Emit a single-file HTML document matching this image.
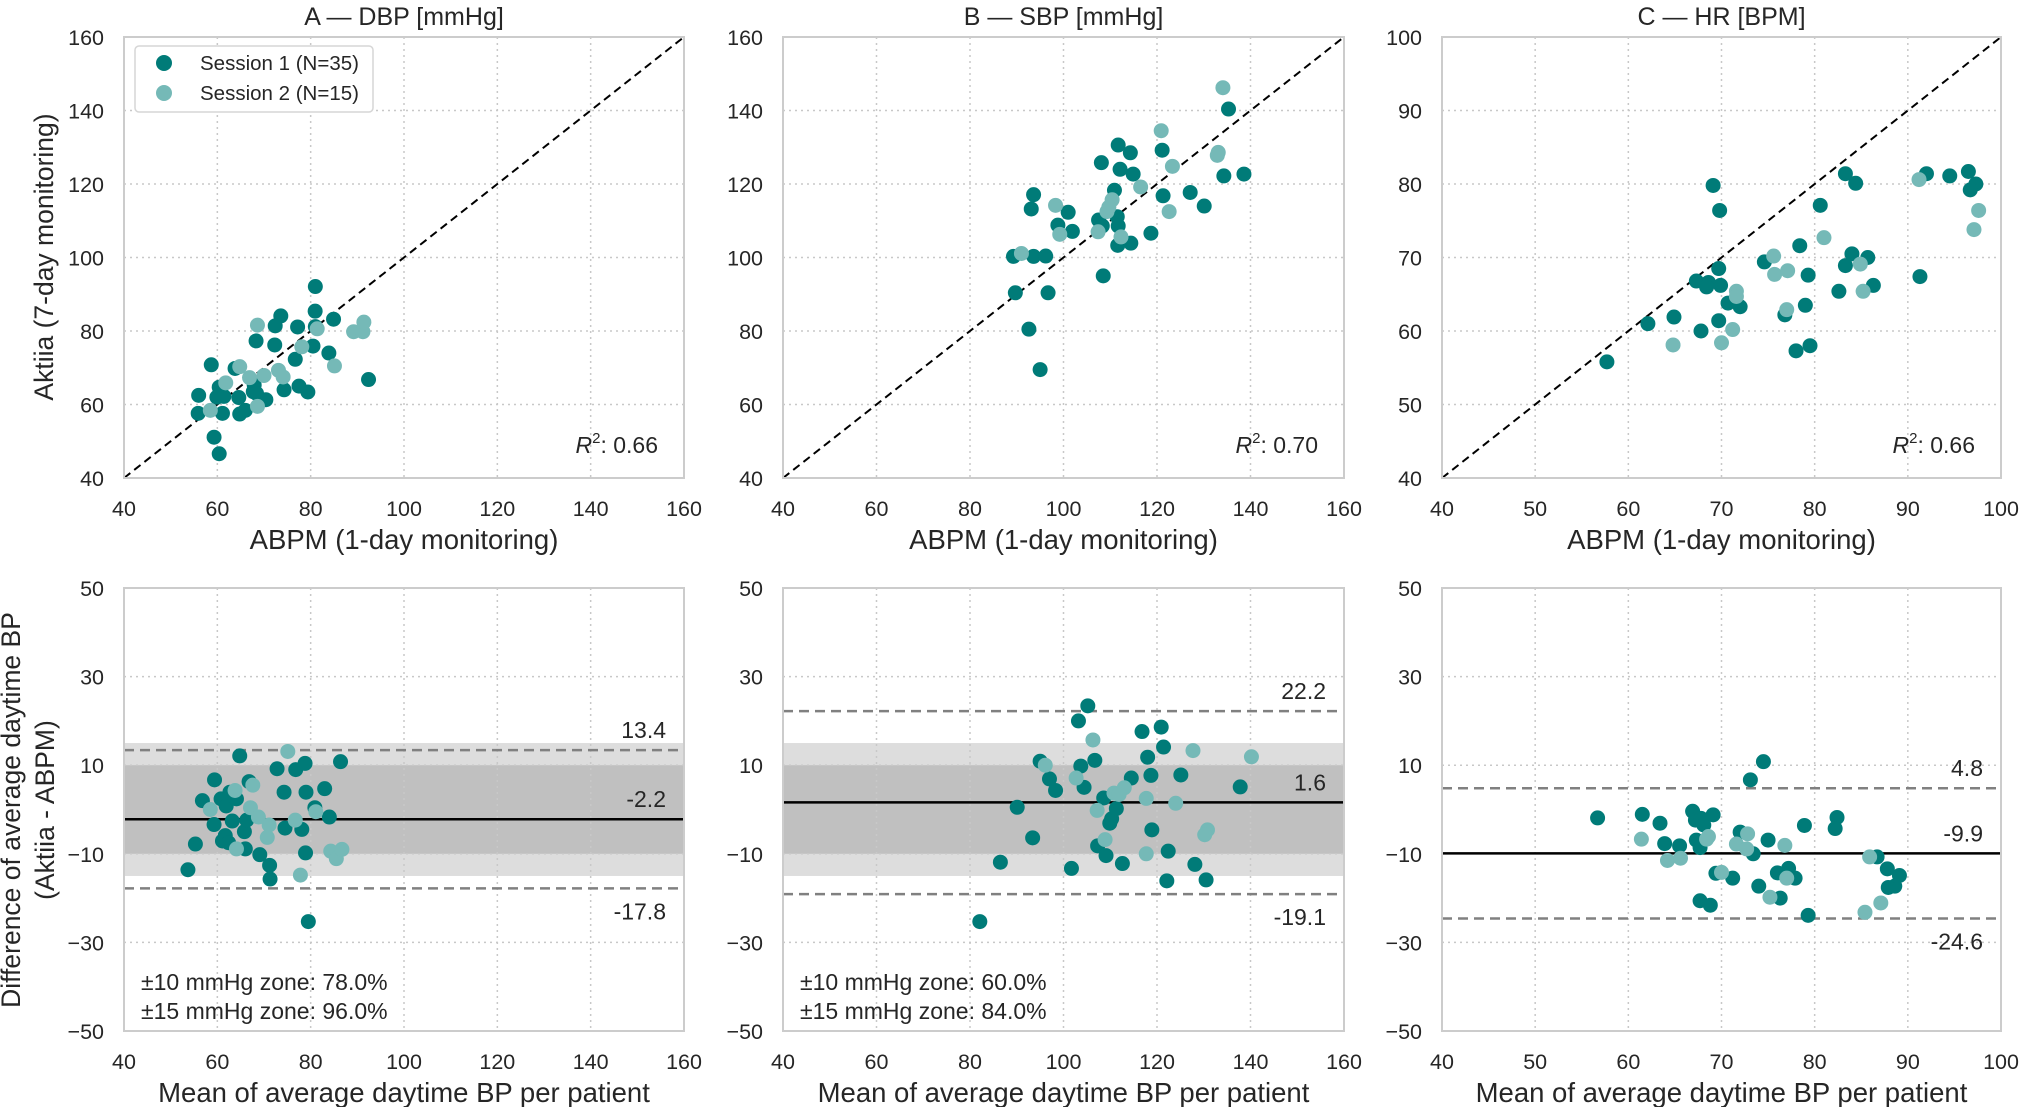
<!DOCTYPE html>
<html><head><meta charset="utf-8">
<style>
html,body{margin:0;padding:0;background:#fff;}
svg{display:block;font-family:"Liberation Sans",sans-serif;}
</style></head>
<body>
<svg id="fig" width="2020" height="1107" viewBox="0 0 2020 1107" xmlns="http://www.w3.org/2000/svg"></svg>
<script>
// ---- Panel A (DBP) scatter ----
const aS1x=[81,80.96,73.6,72.4,77.2,84.9,68.3,72.3,80.5,83.9,76.7,58.7,63.8,56,55.9,59.3,60.4,61.1,60.4,59.9,61.4,64.6,64.8,66,67.9,67.7,70.4,74.3,77.5,79.4,92.4,68.4,81];
const aS1y=[92.1,85.4,84.1,81.4,81.1,83.2,77.3,76.2,75.9,74,72.3,70.8,69.8,62.5,57.6,51.1,46.6,57.6,64.7,62,62.2,61.9,57.4,58.4,65.3,63.5,61.3,64,65,63.4,66.8,63,81.2];
const aS2x=[68.6,64.8,61.8,66.9,70,73.1,74.1,78.1,81.4,89.2,91.2,91.4,85.1,58.5,68.6];
const aS2y=[81.6,70.3,65.9,67.3,67.9,69.3,67.5,75.7,80.6,79.8,79.8,82.4,70.5,58.4,59.5];
// ---- Panel B (SBP) scatter ----
const bS1x=[135.3,134.3,138.6,121.1,111.7,114.3,108.1,112.1,114.9,110.9,121.3,127.1,130.1,93.6,93.1,101,98.8,101.9,107.5,108.3,111.5,111.7,111.6,114.4,118.7,89.3,93.6,96.2,89.7,96.7,108.5,92.6,95];
const bS1y=[140.4,122.2,122.7,129.2,130.6,128.5,125.8,124,122.7,118.3,116.8,117.7,114,117.1,113.2,112.3,108.8,107.1,110.2,108.6,111.1,108.6,103.3,103.9,106.6,100.3,100.3,100.4,90.4,90.4,95,80.5,69.5];
const bS2x=[134.1,120.9,132.9,123.3,116.5,110.4,109.3,98.3,99.2,107.4,112.3,122.6,91,109.7,133.1];
const bS2y=[146.2,134.5,127.8,124.8,119.2,115.7,112.5,114.2,106.3,107,105.6,112.5,101.1,113.7,128.6];
// ---- Panel C (HR) scatter ----
const cS1x=[57.7,62.1,64.9,67.8,67.3,68.6,68.4,69.9,69.7,69.1,69.8,70.7,72,69.7,74.6,76.8,78.4,79.3,79,78,79.5,80.6,83.3,84.4,83.3,84,85.7,82.6,86.3,92,94.5,96.5,97.3,96.7,91.3];
const cS1y=[55.8,61,61.9,60,66.8,66.6,66,66.2,68.5,79.8,76.4,63.8,63.3,61.4,69.4,62.2,71.6,67.6,63.5,57.3,58,77.1,81.4,80.1,68.9,70.5,70,65.4,66.2,81.4,81.1,81.7,80,79.2,67.4];
const cS2x=[64.8,70,71.2,71.6,71.6,75.6,75.7,77.1,77,81,84.9,85.2,91.2,97.6,97.1];
const cS2y=[58.1,58.4,60.2,65.4,64.7,70.2,67.7,68.2,62.9,72.7,69.1,65.4,80.6,76.4,73.8];
// ---- Bland-Altman A ----
const dS1x=[53.7,55.3,56.8,59.4,59.3,60.8,61.9,61.7,61.1,62.4,63.2,64.1,62.7,64.8,66,65.8,66.3,66.8,69.1,71.2,71.3,72.8,74.3,74.5,76.8,78.8,79,78.1,78.9,80.9,83,84,86.4,79.5];
const dS1y=[-13.6,-7.8,2,6.7,-3.4,2.4,0.8,-5.9,-7.1,-7.5,-2.6,2.4,3.9,12.1,-8.9,-5,-2.4,6.3,-10.2,-12.6,-15.7,9.2,3.9,-4.2,9,10.4,3.9,-4.5,-9.8,0.4,4.7,-1.7,10.8,-25.3];
const dS2x=[58.5,63.8,64.1,67.6,67.1,68.8,71.1,70.7,75.1,76.7,77.8,81.1,84.3,85.5,86.7];
const dS2y=[0,4.3,-8.9,5.5,0.4,-1.7,-3.5,-6.3,13.1,-2.4,-14.8,-0.5,-9.4,-11.1,-9];
const dLines=[13.4,-2.2,-17.8];
// ---- Bland-Altman B ----
const eS1x=[105.2,103.2,82.1,86.5,90.1,93.4,95,97,98.3,101.7,103.7,104.4,106.7,107.3,108.6,109.1,109.9,110.3,111.3,112.6,114.5,116.8,118,118.7,118.9,120.9,121.4,122.4,122.1,125.1,128.1,130.5,137.8];
const eS1y=[23.4,20,-25.3,-11.9,0.5,-6.4,10.9,6.9,4.3,-13.3,9.8,5,11.1,-8.2,2.6,-10.4,-3.1,-2.1,0.2,-12.2,7.1,17.6,11.8,7.7,-4.6,18.6,14.1,-9.4,-16.1,7.8,-12.4,-15.9,5.1];
const eS2x=[106.3,96.1,102.7,110.8,113,111.9,107.2,108.9,117.7,117.7,124,127.7,140.2,130.8,130.2];
const eS2y=[15.7,10,7.1,3.7,4.9,3.4,-0.2,-6.8,2.5,-10,1.4,13.3,11.9,-4.6,-5.7];
const eLines=[22.2,1.6,-19.1];
// ---- Bland-Altman C ----
const fS1x=[56.7,61.5,63.4,63.9,65.5,66.9,67.2,67.8,68.1,67.3,67.7,69.1,69.4,67.7,68.8,71.2,72,73.1,74.5,73.4,74,75,76,77.2,77.9,76.3,78.9,79.3,82.4,82.2,86.7,87.8,89.1,88.6,87.9];
const fS1y=[-1.9,-1.1,-3.1,-7.7,-8.2,-0.4,-2.4,-2,-3.5,-6.9,-8.6,-1.2,-14.4,-20.6,-21.6,-15.5,-5.1,6.7,10.8,-10,-17.3,-6.9,-14.3,-13.3,-15.5,-20,-3.6,-23.9,-1.8,-4.3,-10.7,-13.4,-14.9,-17.3,-17.6];
const fS2x=[61.4,64.2,65.6,68.4,68.6,70,71.6,72.7,72.8,75.2,76.8,77,85.9,85.4,87.1];
const fS2y=[-6.7,-11.5,-11,-6.7,-6.1,-14.2,-7.8,-8.9,-5.5,-19.8,-8.1,-15.5,-10.7,-23.2,-21.1];
const fLines=[4.8,-9.9,-24.6];
const bpTicks=[40,60,80,100,120,140,160];
const hrTicks=[40,50,60,70,80,90,100];
const diffTicks=[50,30,10,-10,-30,-50];

const NS="http://www.w3.org/2000/svg";
const svg=document.getElementById('fig');
const C1="#007b78", C2="#75b9b7";
function mk(tag,attrs,parent){const e=document.createElementNS(NS,tag);for(const k in attrs)e.setAttribute(k,attrs[k]);(parent||svg).appendChild(e);return e;}
function txt(s,attrs,parent){const e=mk('text',attrs,parent);e.textContent=s;return e;}

function panel(o){
  const g=mk('g',{});
  
  
  const sx=v=>o.x0+(v-o.xmin)/(o.xmax-o.xmin)*(o.x1-o.x0);
  const sy=v=>o.y1-(v-o.ymin)/(o.ymax-o.ymin)*(o.y1-o.y0);
  if(o.bands){
    const b15=mk('rect',{x:o.x0,y:sy(15),width:o.x1-o.x0,height:sy(-15)-sy(15),fill:"#dddddd"},g);
    
    
    const b10=mk('rect',{x:o.x0,y:sy(10),width:o.x1-o.x0,height:sy(-10)-sy(10),fill:"#c0c0c0"},g);
    
    
  }
  o.xt.forEach(v=>{const l=mk('line',{x1:sx(v),x2:sx(v),y1:o.y0,y2:o.y1,stroke:"#c8c8c8","stroke-width":1.5,"stroke-dasharray":"2,4"},g);
    
    
    const t=txt(String(v),{x:sx(v),y:o.y1+38,"font-size":21.5,"text-anchor":"middle",fill:"#262626"},g);
    
    });
  o.yt.forEach(v=>{const l=mk('line',{x1:o.x0,x2:o.x1,y1:sy(v),y2:sy(v),stroke:"#c8c8c8","stroke-width":1.5,"stroke-dasharray":"2,4"},g);
    
    
    const t=txt(v<0?'\u2212'+Math.abs(v):String(v),{x:o.x0-20,y:sy(v)+8,"font-size":21.5,"text-anchor":"end",fill:"#262626"},g);
    
    });
  if(o.diag){const d=mk('line',{x1:sx(o.xmin),y1:sy(o.ymin),x2:sx(o.xmax),y2:sy(o.ymax),stroke:"#000","stroke-width":2,"stroke-dasharray":"8,5"},g);
    
    }
  if(o.lines){
    o.lines.forEach((v,i)=>{
      const mean=i===1;
      const l=mk('line',{x1:o.x0,x2:o.x1,y1:sy(v),y2:sy(v),stroke:mean?"#000":"#808080","stroke-width":2.5,"stroke-dasharray":mean?"none":"10,6"},g);
      
      
      const ty=i===2?sy(v)+31:sy(v)-12;
      const t=txt(v.toFixed(1),{x:o.x1-18,y:ty,"font-size":23,"text-anchor":"end",fill:"#262626"},g);
      
      
    });
  }
  [[o.s1x,o.s1y,C1,'session-1-point'],[o.s2x,o.s2y,C2,'session-2-point']].forEach(([xs,ys,c,n])=>{
    xs.forEach((v,i)=>{const p=mk('circle',{cx:sx(v),cy:sy(ys[i]),r:7.5,fill:c},g);
      
      });
  });
  const f=mk('rect',{x:o.x0,y:o.y0,width:o.x1-o.x0,height:o.y1-o.y0,fill:"none",stroke:"#cccccc","stroke-width":2},g);
  
  
  if(o.title){const t=txt(o.title,{x:(o.x0+o.x1)/2,y:o.y0-12,"font-size":25,"text-anchor":"middle",fill:"#262626"},g);
    
    }
  const xl=txt(o.xlabel,{x:(o.x0+o.x1)/2,y:o.y1+71,"font-size":27.5,"text-anchor":"middle",fill:"#262626"},g);
  
  
  if(o.r2){const t=txt('',{x:o.x1-26,y:o.y1-25,"font-size":23,"text-anchor":"end",fill:"#262626"},g);
    t.innerHTML='<tspan font-style="italic">R</tspan><tspan dy="-10" font-size="15">2</tspan><tspan dy="10">: '+o.r2+'</tspan>';
    
    }
  if(o.zone){o.zone.forEach((s,i)=>{const t=txt(s,{x:o.x0+17,y:o.y1-41+i*29,"font-size":23,fill:"#262626"},g);
    
    });}
}
const TOP=[37,478], BOT=[588,1031];
const XA=[124,684], XB=[783,1344], XC=[1442,2001];
panel({name:'panel-a-dbp',x0:XA[0],x1:XA[1],y0:TOP[0],y1:TOP[1],xmin:40,xmax:160,ymin:40,ymax:160,xt:bpTicks,yt:bpTicks,s1x:aS1x,s1y:aS1y,s2x:aS2x,s2y:aS2y,diag:true,title:'A \u2014 DBP [mmHg]',xlabel:'ABPM (1-day monitoring)',r2:'0.66'});
panel({name:'panel-b-sbp',x0:XB[0],x1:XB[1],y0:TOP[0],y1:TOP[1],xmin:40,xmax:160,ymin:40,ymax:160,xt:bpTicks,yt:bpTicks,s1x:bS1x,s1y:bS1y,s2x:bS2x,s2y:bS2y,diag:true,title:'B \u2014 SBP [mmHg]',xlabel:'ABPM (1-day monitoring)',r2:'0.70'});
panel({name:'panel-c-hr',x0:XC[0],x1:XC[1],y0:TOP[0],y1:TOP[1],xmin:40,xmax:100,ymin:40,ymax:100,xt:hrTicks,yt:hrTicks,s1x:cS1x,s1y:cS1y,s2x:cS2x,s2y:cS2y,diag:true,title:'C \u2014 HR [BPM]',xlabel:'ABPM (1-day monitoring)',r2:'0.66'});
panel({name:'bland-altman-a',x0:XA[0],x1:XA[1],y0:BOT[0],y1:BOT[1],xmin:40,xmax:160,ymin:-50,ymax:50,xt:bpTicks,yt:diffTicks,s1x:dS1x,s1y:dS1y,s2x:dS2x,s2y:dS2y,bands:true,lines:dLines,xlabel:'Mean of average daytime BP per patient',zone:['\u00b110 mmHg zone: 78.0%','\u00b115 mmHg zone: 96.0%']});
panel({name:'bland-altman-b',x0:XB[0],x1:XB[1],y0:BOT[0],y1:BOT[1],xmin:40,xmax:160,ymin:-50,ymax:50,xt:bpTicks,yt:diffTicks,s1x:eS1x,s1y:eS1y,s2x:eS2x,s2y:eS2y,bands:true,lines:eLines,xlabel:'Mean of average daytime BP per patient',zone:['\u00b110 mmHg zone: 60.0%','\u00b115 mmHg zone: 84.0%']});
panel({name:'bland-altman-c',x0:XC[0],x1:XC[1],y0:BOT[0],y1:BOT[1],xmin:40,xmax:100,ymin:-50,ymax:50,xt:hrTicks,yt:diffTicks,s1x:fS1x,s1y:fS1y,s2x:fS2x,s2y:fS2y,lines:fLines,xlabel:'Mean of average daytime BP per patient'});

const yl1=txt('Aktiia (7-day monitoring)',{x:0,y:0,"font-size":26.5,"text-anchor":"middle",fill:"#262626",transform:"translate(53,257) rotate(-90)"});


const yl2=txt('Difference of average daytime BP',{x:0,y:0,"font-size":26.5,"text-anchor":"middle",fill:"#262626",transform:"translate(20,810) rotate(-90)"});


const yl3=txt('(Aktiia - ABPM)',{x:0,y:0,"font-size":26.5,"text-anchor":"middle",fill:"#262626",transform:"translate(54,810) rotate(-90)"});



const lg=mk('g',{});


mk('rect',{x:135,y:46,width:238,height:66,rx:4,fill:"#fff",stroke:"#d6d6d6","stroke-width":1.5},lg);
const le1=mk('circle',{cx:164,cy:63,r:8,fill:C1},lg);


const le2=mk('circle',{cx:164,cy:93,r:8,fill:C2},lg);


const lt1=txt('Session 1 (N=35)',{x:200,y:70,"font-size":20.5,fill:"#262626"},lg);


const lt2=txt('Session 2 (N=15)',{x:200,y:100,"font-size":20.5,fill:"#262626"},lg);


</script>
</body></html>
